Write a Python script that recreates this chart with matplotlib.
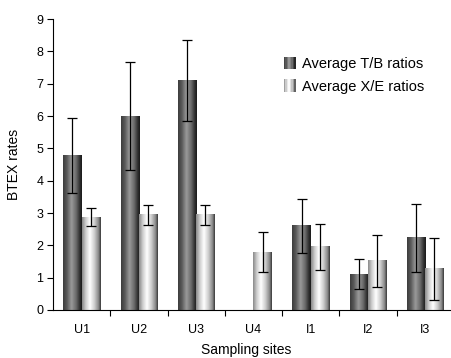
import matplotlib
matplotlib.use("Agg")
import matplotlib.pyplot as plt
import numpy as np
from matplotlib.colors import LinearSegmentedColormap
from matplotlib.legend_handler import HandlerBase
from matplotlib.patches import Rectangle

plt.rcParams['font.family'] = ['Liberation Sans', 'DejaVu Sans']

sites = ["U1", "U2", "U3", "U4", "I1", "I2", "I3"]
tb_mean = [4.78, 6.0, 7.1, 0.0, 2.6, 1.11, 2.23]
tb_err = [1.17, 1.67, 1.25, 0.0, 0.83, 0.46, 1.04]
xe_mean = [2.87, 2.94, 2.94, 1.79, 1.95, 1.52, 1.27]
xe_err = [0.28, 0.30, 0.30, 0.62, 0.71, 0.80, 0.97]
series_names = ["Average T/B ratios", "Average X/E ratios"]

dark_cmap = LinearSegmentedColormap.from_list(
    "dark", [(0.0, "#3c3c3c"), (0.2, "#5a5a5a"), (0.45, "#9a9a9a"),
             (0.7, "#6a6a6a"), (0.9, "#2e2e2e"), (1.0, "#1a1a1a")])
light_cmap = LinearSegmentedColormap.from_list(
    "light", [(0.0, "#8a8a8a"), (0.2, "#cfcfcf"), (0.42, "#ffffff"),
              (0.65, "#d0d0d0"), (0.88, "#8a8a8a"), (1.0, "#3a3a3a")])
grad = np.linspace(0, 1, 64).reshape(1, -1)

fig = plt.figure(figsize=(4.51, 3.58), dpi=100)
ax = fig.add_axes([53/451, 1 - 310/358, 1 - 53/451, 291/358])

x = np.arange(len(sites))
w = 0.32
b1 = ax.bar(x - w/2, tb_mean, w, color="none", edgecolor="none")
b2 = ax.bar(x + w/2, xe_mean, w, color="none", edgecolor="none")

for bars, cmap in ((b1, dark_cmap), (b2, light_cmap)):
    for p in bars:
        if p.get_height() <= 0:
            continue
        x0 = p.get_x()
        ax.imshow(grad, cmap=cmap, aspect="auto", interpolation="bilinear",
                  extent=(x0, x0 + p.get_width(), 0, p.get_height()), zorder=2)

tb_idx = [i for i, v in enumerate(tb_mean) if v > 0]
ax.errorbar([x[i] - w/2 for i in tb_idx], [tb_mean[i] for i in tb_idx],
            yerr=[tb_err[i] for i in tb_idx],
            fmt="none", ecolor="black", elinewidth=0.9, capsize=3.3, capthick=0.9, zorder=3)
ax.errorbar(x + w/2, xe_mean, yerr=xe_err,
            fmt="none", ecolor="black", elinewidth=0.9, capsize=3.3, capthick=0.9, zorder=3)

ax.set_xlim(-0.5, 6.45)
ax.set_ylim(0, 9)
ax.set_yticks(range(0, 10))
ax.set_xticks(x)
ax.set_xticklabels(sites)
ax.set_xticks(np.arange(0.5, 6.5, 1), minor=True)
ax.tick_params(axis="x", which="major", length=0, pad=10, labelsize=9)
ax.tick_params(axis="x", which="minor", length=4, width=0.8, direction="out")
ax.tick_params(axis="y", length=4, width=0.8, labelsize=9, pad=3)
for s in ("top", "right"):
    ax.spines[s].set_visible(False)
ax.spines["left"].set_linewidth(0.8)
ax.spines["bottom"].set_linewidth(0.8)
ax.set_ylabel("BTEX rates", fontsize=10, labelpad=11)
ax.set_xlabel("Sampling sites", fontsize=10)
ax.xaxis.set_label_coords(0.485, -0.113)


class GradHandler(HandlerBase):
    def __init__(self, cmap):
        super().__init__()
        self.cmap = cmap

    def create_artists(self, legend, orig_handle, xdescent, ydescent, width,
                       height, fontsize, trans):
        n = 8
        arts = []
        sw = 9
        x0 = width - sw
        for i in range(n):
            c = self.cmap((i + 0.5) / n)
            r = Rectangle((x0 - xdescent + i * sw / n, -ydescent + (height - sw) / 2),
                          sw / n, sw, facecolor=c, edgecolor="none", transform=trans)
            arts.append(r)
        return arts


h1 = Rectangle((0, 0), 1, 1)
h2 = Rectangle((0, 0), 1, 1)
ax.legend([h1, h2], series_names, loc="upper left", bbox_to_anchor=(0.574, 0.869),
          frameon=False, fontsize=10.5, handlelength=1.0, handletextpad=0.41,
          labelspacing=0.58, borderpad=0, borderaxespad=0,
          handler_map={h1: GradHandler(dark_cmap), h2: GradHandler(light_cmap)})

fig.savefig("out.png", dpi=100)
